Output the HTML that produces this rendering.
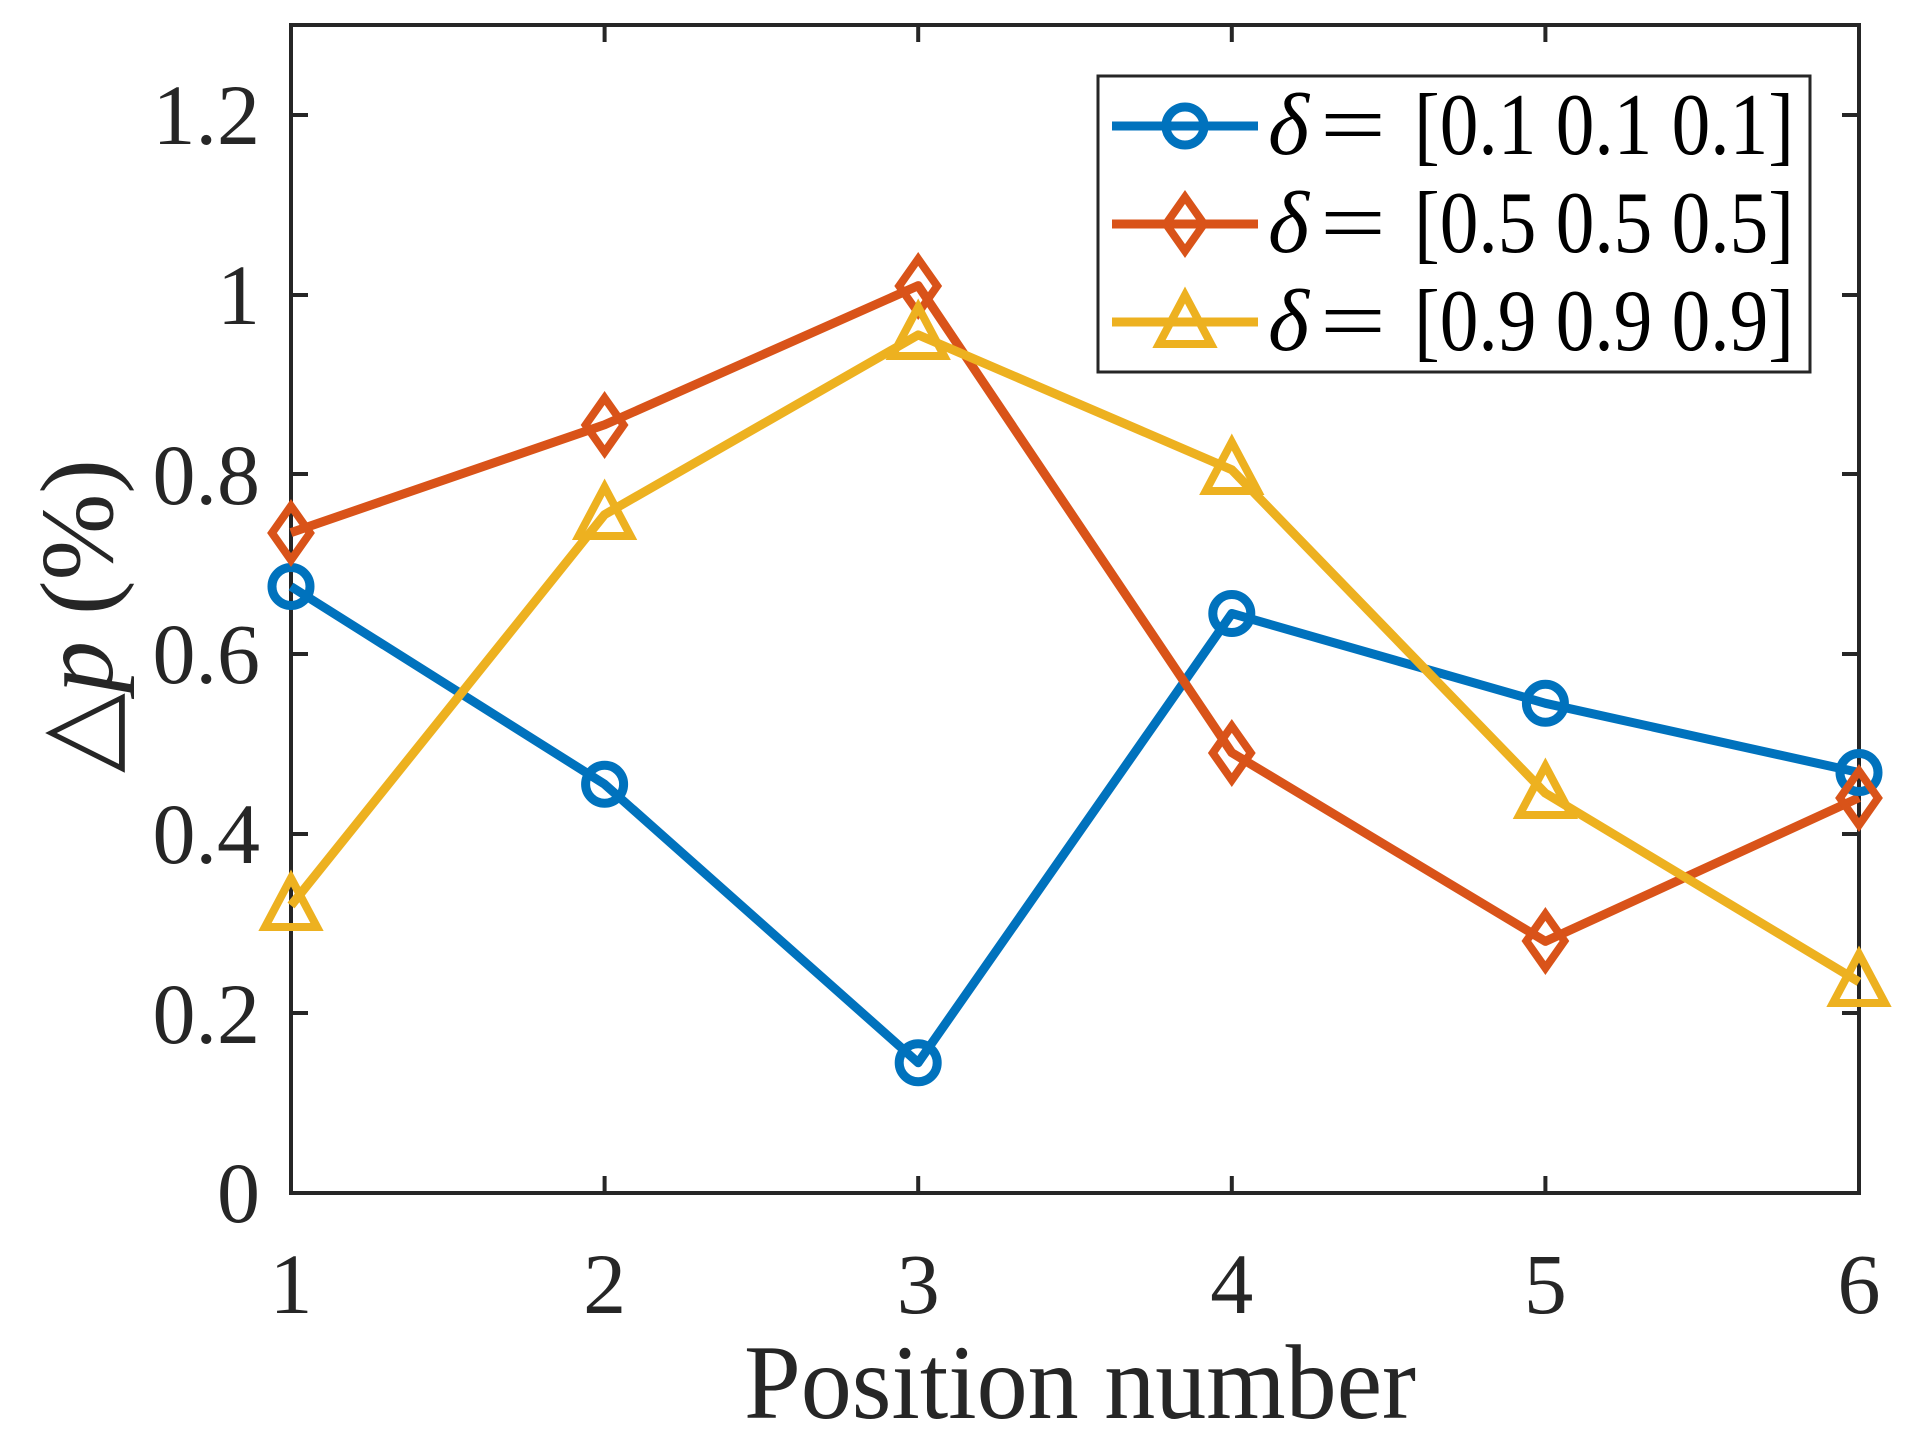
<!DOCTYPE html>
<html><head><meta charset="utf-8"><style>html,body{margin:0;padding:0;background:#fff}svg{display:block}</style></head>
<body>
<svg width="1909" height="1451" viewBox="0 0 1909 1451" xmlns="http://www.w3.org/2000/svg" font-family="'Liberation Serif', serif" fill="#262626">
<rect width="1909" height="1451" fill="#fff"/>
<g stroke="#262626" stroke-width="4" fill="none">
<rect x="291" y="25" width="1568" height="1168"/>
<path d="M291 1013h17M291 834h17M291 654h17M291 474h17M291 295h17M291 115h17M1859 1013h-17M1859 834h-17M1859 654h-17M1859 474h-17M1859 295h-17M1859 115h-17"/>
<path d="M604.6 1193v-17M918.2 1193v-17M1231.8 1193v-17M1545.4 1193v-17M604.6 25v17M918.2 25v17M1231.8 25v17M1545.4 25v17"/>
</g>
<g font-size="86" text-anchor="end">
<text x="260" y="1222">0</text><text x="260" y="1043">0.2</text><text x="260" y="863">0.4</text><text x="260" y="683">0.6</text><text x="260" y="504">0.8</text><text x="260" y="324">1</text><text x="260" y="144">1.2</text>
</g>
<g font-size="86" text-anchor="middle">
<text x="291" y="1313">1</text><text x="604.6" y="1313">2</text><text x="918.2" y="1313">3</text><text x="1231.8" y="1313">4</text><text x="1545.4" y="1313">5</text><text x="1859" y="1313">6</text>
</g>
<text x="744" y="1418" font-size="106" textLength="672" lengthAdjust="spacingAndGlyphs">Position number</text>
<text transform="translate(112,616) rotate(-90)" font-size="104" text-anchor="middle">△<tspan font-style="italic">p</tspan> (%)</text>
<g fill="none" stroke-width="9" stroke-linejoin="round">
<polyline stroke="#0072BD" points="291,586.5 604.6,784.2 918.2,1062.7 1231.8,613.5 1545.4,703.3 1859,772.5"/>
<polyline stroke="#D95319" points="291,532.6 604.6,424.8 918.2,285.6 1231.8,752.7 1545.4,941.4 1859,797.7"/>
<polyline stroke="#EDB120" points="291,905.5 604.6,514.6 918.2,334.9 1231.8,469.7 1545.4,793.2 1859,981.9"/>
</g>
<g fill="none" stroke="#0072BD" stroke-width="9">
<circle cx="291" cy="586.5" r="19"/><circle cx="604.6" cy="784.2" r="19"/><circle cx="918.2" cy="1062.7" r="19"/><circle cx="1231.8" cy="613.5" r="19"/><circle cx="1545.4" cy="703.3" r="19"/><circle cx="1859" cy="772.5" r="19"/>
</g>
<g fill="none" stroke="#D95319" stroke-width="8">
<path d="M291 506l19 27-19 27-19-27z M604.6 398l19 27-19 27-19-27z M918.2 259l19 27-19 27-19-27z M1231.8 726l19 27-19 27-19-27z M1545.4 914l19 27-19 27-19-27z M1859 771l19 27-19 27-19-27z"/>
</g>
<g fill="none" stroke="#EDB120" stroke-width="8">
<path d="M291 878l26 49h-52z M604.6 487l26 49h-52z M918.2 307l26 49h-52z M1231.8 442l26 49h-52z M1545.4 766l26 49h-52z M1859 954l26 49h-52z"/>
</g>
<rect x="1098" y="76" width="712" height="296" fill="#fff" stroke="#262626" stroke-width="3"/>
<g stroke-width="9" fill="none">
<path d="M1112 126h146" stroke="#0072BD"/><circle cx="1185" cy="126" r="19" stroke="#0072BD" stroke-width="9"/>
<path d="M1112 224h146" stroke="#D95319"/><path d="M1185 197l19 27-19 27-19-27z" stroke="#D95319" stroke-width="8"/>
<path d="M1112 322h146" stroke="#EDB120"/><path d="M1185 295l26 49h-52z" stroke="#EDB120" stroke-width="8"/>
</g>
<g font-size="88" fill="#000">
<text x="1268" y="154" font-style="italic">δ</text><text x="1320" y="154" textLength="66" lengthAdjust="spacingAndGlyphs">=</text><text x="1414" y="154" textLength="380" lengthAdjust="spacingAndGlyphs">[0.1 0.1 0.1]</text>
<text x="1268" y="252" font-style="italic">δ</text><text x="1320" y="252" textLength="66" lengthAdjust="spacingAndGlyphs">=</text><text x="1414" y="252" textLength="380" lengthAdjust="spacingAndGlyphs">[0.5 0.5 0.5]</text>
<text x="1268" y="350" font-style="italic">δ</text><text x="1320" y="350" textLength="66" lengthAdjust="spacingAndGlyphs">=</text><text x="1414" y="350" textLength="380" lengthAdjust="spacingAndGlyphs">[0.9 0.9 0.9]</text>
</g>
</svg>
</body></html>
